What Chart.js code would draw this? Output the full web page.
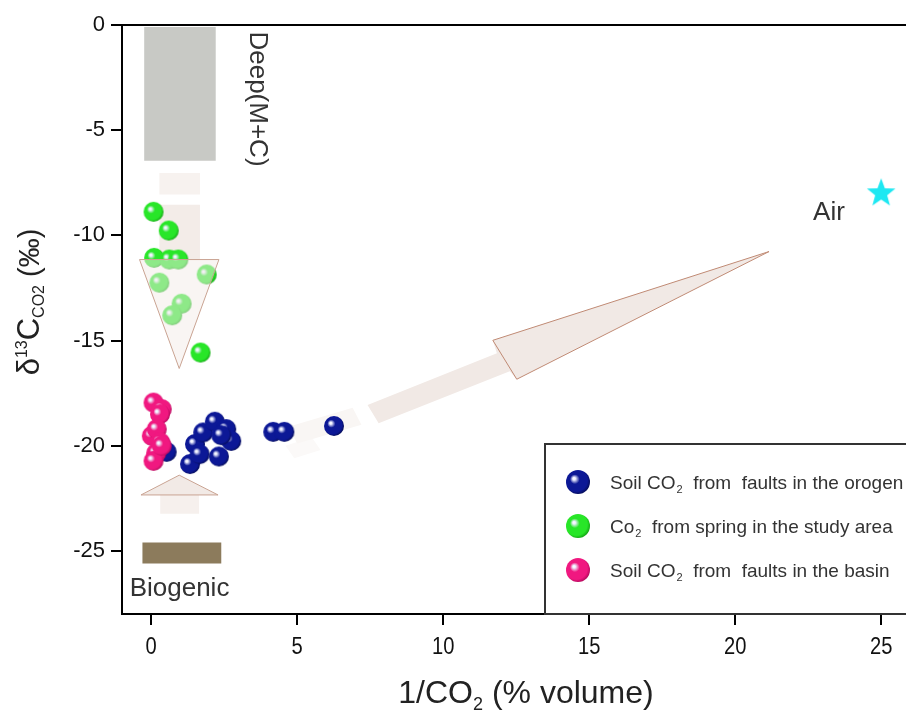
<!DOCTYPE html>
<html>
<head>
<meta charset="utf-8">
<script src="https://cdn.jsdelivr.net/npm/chart.js@4.4.0/dist/chart.umd.min.js"></script>
<style>
  html, body { margin: 0; padding: 0; background: #fff; overflow: hidden; }
  canvas { display: block; }
</style>
</head>
<body>
<canvas id="grafico" width="906" height="714"></canvas>
<script>
// values
const orogenX = [0.53, 1.33, 1.50, 1.78, 2.18, 2.57, 2.74, 2.32, 1.66, 2.40, 4.18, 4.56, 6.26];
const orogenY = [-20.29, -20.87, -19.92, -19.37, -18.86, -19.21, -19.77, -20.51, -20.40, -19.50, -19.34, -19.34, -19.06];
const springX = [0.08, 0.60, 0.10, 0.62, 0.93, 1.90, 0.28, 1.04, 0.72, 1.69];
const springY = [-8.88, -9.77, -11.07, -11.15, -11.15, -11.86, -12.25, -13.25, -13.80, -15.57];
const basinX = [0.08, 0.36, 0.30, 0.02, 0.19, 0.31, 0.17, 0.08, 0.36];
const basinY = [-17.95, -18.26, -18.50, -19.53, -19.21, -19.84, -20.35, -20.72, -20.00];
const airX = [25];
const airY = [-8];
const xTicks = [0, 5, 10, 15, 20, 25];
const yTicks = [0, -5, -10, -15, -20, -25];
const legendLabels = [
  ['Soil CO', '2', '  from  faults in the orogen'],
  ['Co', '2', '  from spring in the study area'],
  ['Soil CO', '2', '  from  faults in the basin']
];

const SANS = "'Liberation Sans', Arial, sans-serif";

function makeBall(color, dark, r) {
  const c = document.createElement('canvas');
  c.width = c.height = 2 * r + 2;
  const g = c.getContext('2d');
  const m = r + 1;
  const grad = g.createRadialGradient(m - 0.35 * r, m - 0.3 * r, 0, m - 0.1 * r, m - 0.1 * r, r * 1.15);
  grad.addColorStop(0, '#ffffff');
  grad.addColorStop(0.1, '#eef0ff');
  grad.addColorStop(0.35, color);
  grad.addColorStop(0.8, color);
  grad.addColorStop(1, dark);
  g.fillStyle = grad;
  g.beginPath();
  g.arc(m, m, r, 0, Math.PI * 2);
  g.fill();
  return c;
}

function makeStar(color, r) {
  const c = document.createElement('canvas');
  c.width = c.height = 2 * r + 2;
  const g = c.getContext('2d');
  g.fillStyle = color;
  g.beginPath();
  for (let i = 0; i < 10; i++) {
    const rad = i % 2 ? r * 0.42 : r;
    const a = -Math.PI / 2 + i * Math.PI / 5;
    g.lineTo(r + 1 + rad * Math.cos(a), r + 1 + rad * Math.sin(a));
  }
  g.closePath();
  g.fill();
  return c;
}

const blueBall = makeBall('#0c1896', '#050c55', 10);
const greenBall = makeBall('#28e628', '#12a012', 10);
const pinkBall = makeBall('#f01880', '#b0085a', 10);
const cyanStar = makeStar('#1ee8f2', 15);
const legendBalls = [makeBall('#0c1896', '#050c55', 12), makeBall('#28e628', '#12a012', 12), makeBall('#f01880', '#b0085a', 12)];

function pts(xs, ys) { return xs.map((x, i) => ({ x: x, y: ys[i] })); }

// text pieces: [text, size, dy]
function richText(ctx, parts, x, y) {
  let w = 0;
  parts.forEach(p => { ctx.font = p[1] + 'px ' + SANS; w += ctx.measureText(p[0]).width; });
  let cx = x - w / 2;
  ctx.textAlign = 'left';
  ctx.textBaseline = 'alphabetic';
  parts.forEach(p => {
    ctx.font = p[1] + 'px ' + SANS;
    ctx.fillText(p[0], cx, y + p[2]);
    cx += ctx.measureText(p[0]).width;
  });
}

function poly(ctx, chart, list, fill, stroke) {
  const sx = chart.scales.x, sy = chart.scales.y;
  ctx.beginPath();
  list.forEach((p, i) => {
    const X = sx.getPixelForValue(p[0]), Y = sy.getPixelForValue(p[1]);
    if (i === 0) ctx.moveTo(X, Y); else ctx.lineTo(X, Y);
  });
  ctx.closePath();
  if (fill) { ctx.fillStyle = fill; ctx.fill(); }
  if (stroke) { ctx.strokeStyle = stroke; ctx.lineWidth = 1; ctx.stroke(); }
}

const decorations = {
  id: 'decorations',
  beforeDatasetsDraw(chart) {
    const ctx = chart.ctx;
    ctx.save();
    // Deep and biogenic end members
    poly(ctx, chart, [[-0.24, -0.1], [2.21, -0.1], [2.21, -6.45], [-0.24, -6.45]], '#c8c9c5');
    poly(ctx, chart, [[-0.3, -24.6], [2.4, -24.6], [2.4, -25.6], [-0.3, -25.6]], '#8c7b5c');
    // downward arrow shaft
    poly(ctx, chart, [[0.28, -7.04], [1.67, -7.04], [1.67, -8.06], [0.28, -8.06]], '#f7f2ef');
    poly(ctx, chart, [[0.28, -8.54], [1.67, -8.54], [1.67, -11.15], [0.28, -11.15]], '#f3ece8');
    // upward arrow
    poly(ctx, chart, [[0.31, -22.34], [1.64, -22.34], [1.64, -23.24], [0.31, -23.24]], '#f6f0ed');
    poly(ctx, chart, [[-0.35, -22.34], [2.29, -22.34], [0.96, -21.4]], '#f2eae6', '#c9a392');
    // arrow towards air
    poly(ctx, chart, [[4.6, -20.0], [5.5, -19.6], [5.8, -20.2], [4.9, -20.6]], '#fbf9f8');
    poly(ctx, chart, [[4.7, -19.1], [6.9, -18.2], [7.2, -19.0], [5.0, -19.9]], '#f9f6f4');
    poly(ctx, chart, [[7.41, -18.07], [11.84, -15.61], [11.70, -14.99], [21.16, -10.77],
      [12.52, -16.84], [12.28, -16.46], [7.79, -18.93]], '#f1e9e5');
    poly(ctx, chart, [[11.70, -14.99], [21.16, -10.77], [12.52, -16.84]], null, '#c08a74');
    ctx.restore();
  },
  afterDatasetsDraw(chart) {
    const ctx = chart.ctx;
    ctx.save();
    // head of the downward arrow lies over the spring points
    poly(ctx, chart, [[-0.4, -11.15], [2.32, -11.15], [0.96, -16.33]], 'rgba(243,236,232,0.5)', '#c9a392');
    ctx.restore();
  },
  afterDraw(chart) {
    const ctx = chart.ctx;
    const a = chart.chartArea;
    const sx = chart.scales.x, sy = chart.scales.y;
    ctx.save();
    // top frame line
    ctx.strokeStyle = '#000';
    ctx.lineWidth = 2;
    ctx.beginPath();
    ctx.moveTo(a.left - 11, a.top);
    ctx.lineTo(a.right + 5, a.top);
    ctx.stroke();

    // x tick labels, narrow
    ctx.fillStyle = '#111';
    ctx.textAlign = 'center';
    ctx.textBaseline = 'alphabetic';
    ctx.font = '24px ' + SANS;
    xTicks.forEach(v => {
      ctx.save();
      ctx.translate(sx.getPixelForValue(v), 654);
      ctx.scale(0.84, 1);
      ctx.fillText(String(v), 0, 0);
      ctx.restore();
    });

    ctx.fillStyle = '#333';
    ctx.textBaseline = 'middle';
    ctx.font = '26px ' + SANS;
    ctx.fillText('Biogenic', sx.getPixelForValue(0.97), sy.getPixelForValue(-26.8));
    ctx.fillText('Air', 829, 213);
    ctx.save();
    ctx.translate(257, 99);
    ctx.rotate(Math.PI / 2);
    ctx.font = '26px ' + SANS;
    ctx.fillText('Deep(M+C)', 0, 0);
    ctx.restore();

    // legend
    const lx = 545, ly = 444;
    ctx.strokeStyle = '#333';
    ctx.lineWidth = 2;
    ctx.fillStyle = '#fff';
    ctx.fillRect(lx, ly, 400, a.bottom - ly);
    ctx.strokeRect(lx, ly, 400, a.bottom - ly);
    legendLabels.forEach((lab, i) => {
      const cy = 482 + i * 44;
      const b = legendBalls[i];
      ctx.drawImage(b, 578 - b.width / 2, cy - b.height / 2);
      ctx.fillStyle = '#333';
      let cx = 610;
      ctx.textAlign = 'left';
      ctx.textBaseline = 'alphabetic';
      ctx.font = '19px ' + SANS;
      ctx.fillText(lab[0], cx, cy + 7);
      cx += ctx.measureText(lab[0]).width + 1;
      ctx.font = '11px ' + SANS;
      ctx.fillText(lab[1], cx, cy + 11);
      cx += ctx.measureText(lab[1]).width;
      ctx.font = '19px ' + SANS;
      ctx.fillText(lab[2], cx, cy + 7);
    });

    // axis titles
    ctx.fillStyle = '#222';
    richText(ctx, [['1/CO', 32, 0], ['2', 18, 7], [' (% volume)', 32, 0]], 526, 703);
    ctx.save();
    ctx.translate(39, 302);
    ctx.rotate(-Math.PI / 2);
    richText(ctx, [['\u03B4', 31], ['13', 16, -12], ['C', 31, 0], ['CO2', 16, 5], [' (\u2030)', 29, 0]].map(p => [p[0], p[1], p[2] || 0]), 0, 0);
    ctx.restore();
    ctx.restore();
  }
};

const ctx = document.getElementById('grafico').getContext('2d');
const grafico = new Chart(ctx, {
  type: 'scatter',
  data: {
    datasets: [
      { label: 'Air', data: pts(airX, airY), pointStyle: cyanStar, order: 0 },
      { label: 'Soil CO2 from faults in the basin', data: pts(basinX, basinY), pointStyle: pinkBall, order: 1 },
      { label: 'Soil CO2 from faults in the orogen', data: pts(orogenX, orogenY), pointStyle: blueBall, order: 2 },
      { label: 'Co2 from spring in the study area', data: pts(springX, springY), pointStyle: greenBall, order: 3 }
    ]
  },
  options: {
    responsive: false,
    animation: false,
    layout: { padding: { top: 25, left: 0, right: 0, bottom: 0 } },
    plugins: {
      legend: { display: false },
      tooltip: { enabled: false }
    },
    scales: {
      x: {
        type: 'linear',
        min: -1,
        max: 25.68,
        afterBuildTicks: axis => { axis.ticks = xTicks.map(v => ({ value: v })); },
        afterFit: scale => { scale.height = 100; },
        grid: { drawOnChartArea: false, tickLength: 11, color: '#000', lineWidth: 2 },
        border: { display: true, color: '#000', width: 2 },
        ticks: { color: 'rgba(0,0,0,0)', padding: 8, font: { family: SANS, size: 20 } }
      },
      y: {
        type: 'linear',
        min: -28,
        max: 0,
        afterBuildTicks: axis => { axis.ticks = yTicks.map(v => ({ value: v })); },
        afterFit: scale => { scale.width = 122; },
        grid: { drawOnChartArea: false, tickLength: 11, color: '#000', lineWidth: 2 },
        border: { display: true, color: '#000', width: 2 },
        ticks: { color: '#111', padding: 6, font: { family: SANS, size: 22 } }
      }
    }
  },
  plugins: [decorations]
});
</script>
</body>
</html>
